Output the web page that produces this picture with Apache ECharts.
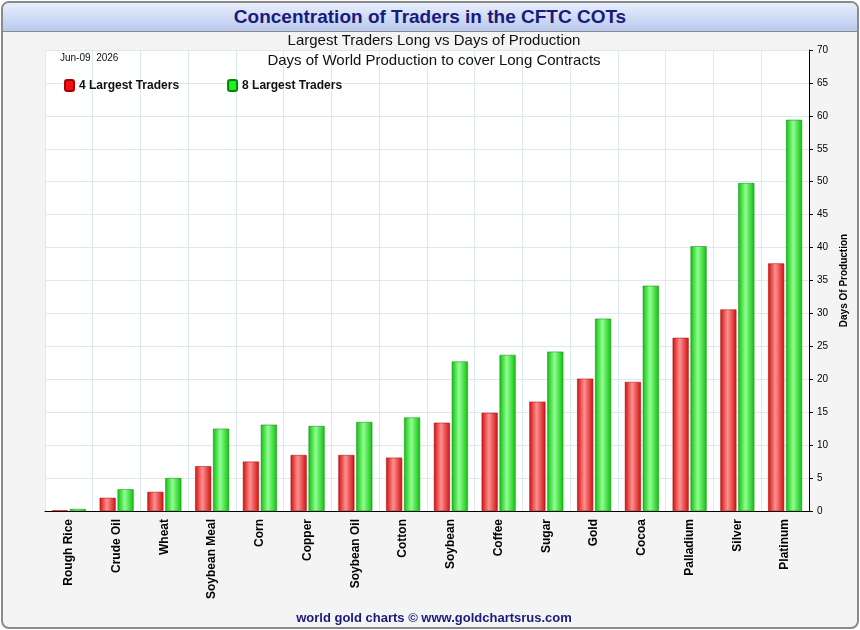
<!DOCTYPE html>
<html><head><meta charset="utf-8">
<script src="https://cdn.jsdelivr.net/npm/echarts@6/dist/echarts.min.js"></script>
<style>
html,body{margin:0;padding:0;background:#fff;}
#frame{position:absolute;left:1px;top:1px;width:854px;height:624px;border:2px solid #8a8a8a;border-radius:8px;background:#f4f4f4;overflow:hidden;}
#title{height:28px;background:linear-gradient(#e8eefc,#b9c9ee);border-bottom:1px solid #8a8a8a;text-align:center;font:bold 19px "Liberation Sans",Arial,sans-serif;color:#1a1a7a;line-height:28px;}
#chart{position:absolute;left:0;top:0;width:854px;height:624px;}
</style></head>
<body>
<div id="frame"><div id="title">Concentration of Traders in the CFTC COTs</div><div id="chart"></div></div>
<script>
var categories = ['Rough Rice','Crude Oil','Wheat','Soybean Meal','Corn','Copper','Soybean Oil','Cotton','Soybean','Coffee','Sugar','Gold','Cocoa','Palladium','Silver','Platinum'];
var largest4 = [0.1, 2.0, 2.9, 6.8, 7.5, 8.5, 8.5, 8.1, 13.4, 14.9, 16.6, 20.1, 19.6, 26.3, 30.6, 37.6];
var largest8 = [0.3, 3.3, 5.0, 12.5, 13.1, 12.9, 13.5, 14.2, 22.7, 23.7, 24.2, 29.2, 34.2, 40.2, 49.8, 59.4];

function grad(dark, light) {
  return new echarts.graphic.LinearGradient(0, 0, 1, 0, [
    {offset: 0, color: dark}, {offset: 0.45, color: light}, {offset: 1, color: dark}
  ]);
}
var chart = echarts.init(document.getElementById('chart'));
chart.setOption({
  animation: false,
  textStyle: {fontFamily: 'Liberation Sans, Arial, sans-serif'},
  title: [
    {text: 'Largest Traders Long vs Days of Production', left: 426, top: 25, textAlign: 'center',
     textStyle: {fontSize: 15, fontWeight: 'normal', color: '#111'}},
    {text: 'Days of World Production to cover Long Contracts', left: 426, top: 45, textAlign: 'center',
     textStyle: {fontSize: 15, fontWeight: 'normal', color: '#111'}},
    {text: 'Jun-09  2026', left: 52, top: 45, textStyle: {fontSize: 10, fontWeight: 'normal', color: '#111'}},
    {text: 'world gold charts © www.goldchartsrus.com', left: 426, top: 604, textAlign: 'center',
     textStyle: {fontSize: 13, fontWeight: 'bold', color: '#1a1a7a'}}
  ],
  legend: {
    left: 56, top: 71, itemWidth: 9, itemHeight: 11, itemGap: 48,
    textStyle: {fontSize: 12, fontWeight: 'bold', color: '#111'},
    data: [{name: '4 Largest Traders', itemStyle: {color: '#ee1111'}},
           {name: '8 Largest Traders', itemStyle: {color: '#22ee22'}}]
  },
  grid: {left: 42, right: 48, top: 47, bottom: 116, backgroundColor: '#fff', show: true, borderWidth: 0},
  xAxis: {
    type: 'category', data: categories,
    axisLine: {lineStyle: {color: '#000'}},
    axisTick: {show: false},
    splitLine: {show: true, lineStyle: {color: '#dde8f2'}},
    axisLabel: {rotate: 90, color: '#000', fontSize: 12, fontWeight: 'bold', interval: 0, margin: 8}
  },
  yAxis: {
    type: 'value', position: 'right', min: 0, max: 70, interval: 5,
    name: 'Days Of Production', nameLocation: 'middle', nameGap: 28, nameRotate: 90,
    nameTextStyle: {fontSize: 10, fontWeight: 'bold', color: '#000'},
    axisLine: {show: true, lineStyle: {color: '#000'}},
    axisTick: {show: true, length: 4, lineStyle: {color: '#000'}},
    splitLine: {lineStyle: {color: '#dde8f2'}},
    axisLabel: {color: '#000', fontSize: 10}
  },
  series: [
    {name: '4 Largest Traders', type: 'bar', data: largest4, barWidth: 16, barGap: '12%',
     itemStyle: {color: grad('#d01010', '#ff9090'), borderColor: '#a00', borderWidth: 0.5}},
    {name: '8 Largest Traders', type: 'bar', data: largest8, barWidth: 16,
     itemStyle: {color: grad('#10c010', '#90ff90'), borderColor: '#080', borderWidth: 0.5}}
  ]
});
</script>
</body></html>
